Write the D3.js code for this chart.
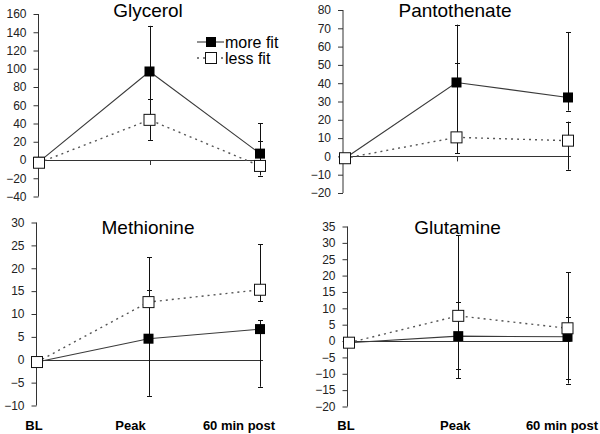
<!DOCTYPE html>
<html>
<head>
<meta charset="utf-8">
<script src="https://cdn.jsdelivr.net/npm/d3@7"></script>
<style>
  html, body { margin: 0; padding: 0; background: #fff; }
  svg { display: block; font-family: "Liberation Sans", Arial, sans-serif; }
</style>
</head>
<body>
<svg id="chart" width="600" height="434"></svg>
<script>
// ---------- DATA ----------
const categories = ["BL", "Peak", "60 min post"];
const seriesNames = ["more fit", "less fit"];
const titles = ["Glycerol", "Pantothenate", "Methionine", "Glutamine"];

// Glycerol
const glycerolMore     = [-2, 97, 7];
const glycerolMoreLow  = [-2, 47, -3];
const glycerolMoreHigh = [-2, 147, 40];
const glycerolLess     = [-3, 44, -6.5];
const glycerolLessLow  = [-3, 22, -17];
const glycerolLessHigh = [-3, 67, 21];
const glycerolTicks = [-40, -20, 0, 20, 40, 60, 80, 100, 120, 140, 160];

// Pantothenate
const pantoMore     = [-1, 40.4, 32.2];
const pantoMoreLow  = [-1, 9, 25];
const pantoMoreHigh = [-1, 72, 68];
const pantoLess     = [-1, 10.4, 8.6];
const pantoLessLow  = [-1, 1.6, -7.3];
const pantoLessHigh = [-1, 50.8, 19];
const pantoTicks = [-20, -10, 0, 10, 20, 30, 40, 50, 60, 70, 80];

// Methionine
const methMore     = [-0.5, 4.6, 6.7];
const methMoreLow  = [-0.5, -7.9, -5.9];
const methMoreHigh = [-0.5, 15.3, 8.6];
const methLess     = [-0.5, 12.6, 15.3];
const methLessLow  = [-0.5, 4.6, 12.8];
const methLessHigh = [-0.5, 22.4, 25.2];
const methTicks = [-10, -5, 0, 5, 10, 15, 20, 25, 30];

// Glutamine
const glutMore     = [-0.5, 1.5, 1.3];
const glutMoreLow  = [-0.5, -8.6, -11.5];
const glutMoreHigh = [-0.5, 12, 7.4];
const glutLess     = [-0.5, 7.7, 3.9];
const glutLessLow  = [-0.5, -11.4, -13];
const glutLessHigh = [-0.5, 32.4, 21];
const glutTicks = [-20, -15, -10, -5, 0, 5, 10, 15, 20, 25, 30, 35];

// ---------- LAYOUT ----------
const panels = [
  { title: titles[0], ticks: glycerolTicks,
    more: glycerolMore, moreLow: glycerolMoreLow, moreHigh: glycerolMoreHigh,
    less: glycerolLess, lessLow: glycerolLessLow, lessHigh: glycerolLessHigh,
    axisX: 38.5, xr: [39, 260], yr: [196.5, 14], titleX: 148, titleY: 17,
    legend: true, labels: false },
  { title: titles[1], ticks: pantoTicks,
    more: pantoMore, moreLow: pantoMoreLow, moreHigh: pantoMoreHigh,
    less: pantoLess, lessLow: pantoLessLow, lessHigh: pantoLessHigh,
    axisX: 343, xr: [345, 568], yr: [193, 10], titleX: 455, titleY: 17,
    legend: false, labels: false },
  { title: titles[2], ticks: methTicks,
    more: methMore, moreLow: methMoreLow, moreHigh: methMoreHigh,
    less: methLess, lessLow: methLessLow, lessHigh: methLessHigh,
    axisX: 36.5, xr: [37, 260], yr: [405.5, 222.5], titleX: 148, titleY: 234,
    legend: false, labels: true, labelShift: [-3, -18, -21] },
  { title: titles[3], ticks: glutTicks,
    more: glutMore, moreLow: glutMoreLow, moreHigh: glutMoreHigh,
    less: glutLess, lessLow: glutLessLow, lessHigh: glutLessHigh,
    axisX: 347.5, xr: [349, 567.5], yr: [406.5, 226.5], titleX: 457.5, titleY: 234,
    legend: false, labels: true, labelShift: [-3, -3, -5.5] }
];

const svg = d3.select("#chart");
const axisColor = "#333";
const moreColor = "#3a3a3a";
const lessColor = "#555";
const mSize = 10;
const oSize = 11;

panels.forEach(p => {
  const g = svg.append("g");
  const x = d3.scalePoint().domain(categories).range(p.xr);
  const y = d3.scaleLinear()
    .domain([d3.min(p.ticks), d3.max(p.ticks)])
    .range(p.yr);

  // y axis
  const yAxis = d3.axisLeft(y).tickValues(p.ticks).tickSize(5).tickPadding(7)
    .tickFormat(d3.format("d"));
  const ya = g.append("g").attr("transform", `translate(${p.axisX},0)`).call(yAxis);
  ya.select(".domain").attr("stroke", axisColor).attr("d", `M0,${y.range()[0]}V${y.range()[1]}`);
  ya.selectAll(".tick line").attr("stroke", axisColor);
  ya.selectAll(".tick text").attr("fill", "#222").style("font-size", "12px")
    .style("font-family", "'Liberation Sans', Arial, sans-serif");

  // zero line (x axis)
  g.append("line")
    .attr("x1", p.axisX).attr("x2", x(categories[2]) + 3)
    .attr("y1", Math.round(y(0)) + 0.5).attr("y2", Math.round(y(0)) + 0.5)
    .attr("stroke", axisColor).attr("stroke-width", 1);
  // category ticks on x axis
  g.selectAll(".xtick").data(categories.slice(1)).enter().append("line")
    .attr("x1", d => Math.round(x(d)) + 0.5).attr("x2", d => Math.round(x(d)) + 0.5)
    .attr("y1", y(0)).attr("y2", y(0) + 5)
    .attr("stroke", axisColor);

  // title
  g.append("text").attr("x", p.titleX).attr("y", p.titleY)
    .attr("text-anchor", "middle").style("font-size", "19px").attr("fill", "#000")
    .text(p.title);

  // category labels
  if (p.labels) {
    g.selectAll(".clab").data(categories).enter().append("text")
      .attr("x", (d, i) => x(d) + p.labelShift[i]).attr("y", 430)
      .attr("text-anchor", "middle").style("font-size", "13px").style("font-weight", "bold")
      .attr("fill", "#000").text(d => d);
  }

  const series = [
    { v: p.more, lo: p.moreLow, hi: p.moreHigh, key: "more" },
    { v: p.less, lo: p.lessLow, hi: p.lessHigh, key: "less" }
  ];

  // error bars
  series.forEach(s => {
    categories.forEach((c, i) => {
      if (s.lo[i] === s.hi[i]) return;
      const cx = Math.round(x(c)) + 0.5;
      g.append("line").attr("x1", cx).attr("x2", cx)
        .attr("y1", y(s.lo[i])).attr("y2", y(s.hi[i]))
        .attr("stroke", "#111").attr("stroke-width", 1);
      [s.lo[i], s.hi[i]].forEach(vv => {
        g.append("line").attr("x1", cx - 2.5).attr("x2", cx + 2.5)
          .attr("y1", Math.round(y(vv)) + 0.5).attr("y2", Math.round(y(vv)) + 0.5)
          .attr("stroke", "#111").attr("stroke-width", 1);
      });
    });
  });

  // lines
  const line = d3.line().x((d, i) => x(categories[i])).y(d => y(d));
  g.append("path").datum(p.more).attr("d", line)
    .attr("fill", "none").attr("stroke", moreColor).attr("stroke-width", 1.1);
  g.append("path").datum(p.less).attr("d", line)
    .attr("fill", "none").attr("stroke", lessColor).attr("stroke-width", 1.4)
    .attr("stroke-dasharray", "2,4");

  // markers: more fit (filled) then less fit (open) on top
  g.selectAll(".mm").data(p.more).enter().append("rect")
    .attr("x", (d, i) => x(categories[i]) - mSize / 2)
    .attr("y", d => y(d) - mSize / 2)
    .attr("width", mSize).attr("height", mSize).attr("fill", "#000");
  g.selectAll(".ml").data(p.less).enter().append("rect")
    .attr("x", (d, i) => x(categories[i]) - oSize / 2)
    .attr("y", d => y(d) - oSize / 2)
    .attr("width", oSize).attr("height", oSize)
    .attr("fill", "#fff").attr("stroke", "#111").attr("stroke-width", 1);

  // legend
  if (p.legend) {
    const lg = g.append("g");
    const rows = [
      { name: seriesNames[0], y: 42, filled: true },
      { name: seriesNames[1], y: 58, filled: false }
    ];
    rows.forEach(r => {
      lg.append("line").attr("x1", 197).attr("x2", 224)
        .attr("y1", r.y).attr("y2", r.y)
        .attr("stroke", r.filled ? moreColor : lessColor)
        .attr("stroke-width", r.filled ? 1.1 : 1.4)
        .attr("stroke-dasharray", r.filled ? null : "2,4");
      const s = r.filled ? mSize : oSize;
      lg.append("rect").attr("x", 211 - s / 2).attr("y", r.y - s / 2)
        .attr("width", s).attr("height", s)
        .attr("fill", r.filled ? "#000" : "#fff")
        .attr("stroke", r.filled ? null : "#111");
      lg.append("text").attr("x", 225).attr("y", r.y + 5.5)
        .style("font-size", "16px").attr("fill", "#000").text(r.name);
    });
  }
});
</script>
</body>
</html>
